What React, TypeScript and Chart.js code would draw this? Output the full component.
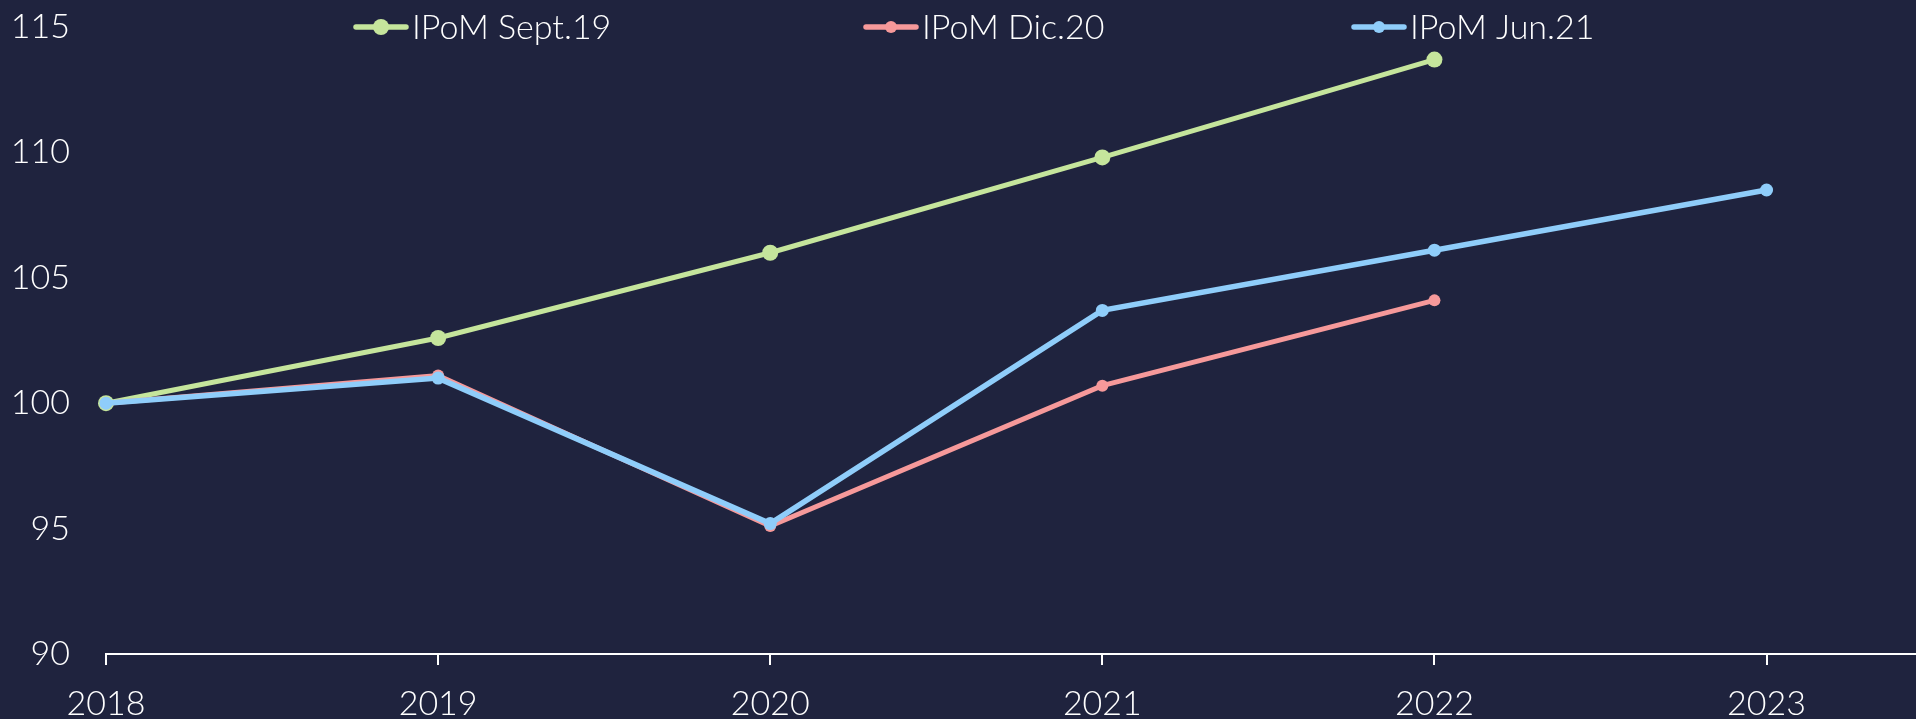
import React, { useEffect, useRef } from "react";
import { Chart, registerables } from "chart.js";

Chart.register(...registerables);

const years = [2018, 2019, 2020, 2021, 2022, 2023];
const sept19 = [100.0, 102.6, 106.0, 109.8, 113.7, null];
const dic20 = [100.0, 101.1, 95.1, 100.7, 104.1, null];
const jun21 = [100.0, 101.0, 95.2, 103.7, 106.1, 108.5];
const yTicks = [90, 95, 100, 105, 110, 115];
const seriesNames = ["IPoM Sept.19", "IPoM Dic.20", "IPoM Jun.21"];
const seriesColors = ["#c5e59c", "#f6999a", "#8fcdfa"];

const BG = "#1f233e";
const FONT_FAMILY = "Lato, 'Open Sans', sans-serif";
const FONT_SIZE = 34;

const toPoints = (vals: (number | null)[]) =>
  years.map((x, i) => ({ x, y: vals[i] }));

const legendPlugin = {
  id: "customLegend",
  afterDraw(chart: any) {
    const ctx = chart.ctx;
    const starts = [353, 863, 1351];
    const radii = [8, 6, 6];
    const y = 27;
    ctx.save();
    seriesNames.forEach((name, i) => {
      const x0 = starts[i];
      ctx.strokeStyle = seriesColors[i];
      ctx.lineWidth = 5.5;
      ctx.lineCap = "round";
      ctx.beginPath();
      ctx.moveTo(x0 + 3, y);
      ctx.lineTo(x0 + 53, y);
      ctx.stroke();
      ctx.fillStyle = seriesColors[i];
      ctx.beginPath();
      ctx.arc(x0 + 28, y, radii[i], 0, Math.PI * 2);
      ctx.fill();
      ctx.fillStyle = "#ffffff";
      ctx.font = `300 ${FONT_SIZE}px ${FONT_FAMILY}`;
      ctx.textBaseline = "middle";
      ctx.textAlign = "left";
      ctx.fillText(name, x0 + 59, y + 1);
    });
    ctx.restore();
  },
};

export default function App() {
  const ref = useRef<HTMLCanvasElement | null>(null);

  useEffect(() => {
    if (!ref.current) return;
    const chart = new Chart(ref.current, {
      type: "line",
      data: {
        datasets: [
          {
            label: seriesNames[0],
            data: toPoints(sept19),
            borderColor: seriesColors[0],
            backgroundColor: seriesColors[0],
            borderWidth: 5,
            pointRadius: 8,
            pointBorderWidth: 0,
            order: 3,
          },
          {
            label: seriesNames[1],
            data: toPoints(dic20),
            borderColor: seriesColors[1],
            backgroundColor: seriesColors[1],
            borderWidth: 5,
            pointRadius: 6,
            pointBorderWidth: 0,
            order: 2,
          },
          {
            label: seriesNames[2],
            data: toPoints(jun21),
            borderColor: seriesColors[2],
            backgroundColor: seriesColors[2],
            borderWidth: 5.5,
            pointRadius: 6.5,
            pointBorderWidth: 0,
            order: 1,
          },
        ],
      },
      options: {
        responsive: false,
        animation: false,
        clip: false as any,
        layout: {
          autoPadding: false,
          padding: { top: 27, left: 0, right: 0, bottom: 0 },
        },
        plugins: {
          legend: { display: false },
          tooltip: { enabled: false },
        },
        scales: {
          x: {
            type: "linear",
            min: years[0],
            max: 2023.45,
            afterBuildTicks: (scale: any) => {
              scale.ticks = years.map((v) => ({ value: v }));
            },
            afterFit: (scale: any) => {
              scale.height = 65;
              scale.paddingLeft = 0;
              scale.paddingRight = 0;
            },
            grid: {
              display: true,
              drawOnChartArea: false,
              drawTicks: true,
              tickLength: 11,
              color: "#ffffff",
              lineWidth: 2,
            },
            border: { display: true, color: "#ffffff", width: 2 },
            ticks: {
              color: "#ffffff",
              font: { family: FONT_FAMILY, size: FONT_SIZE, weight: "300" as any },
              padding: 19,
              maxRotation: 0,
              autoSkip: false,
              callback: (v: any) => String(v),
            },
          },
          y: {
            type: "linear",
            min: yTicks[0],
            max: yTicks[yTicks.length - 1],
            afterBuildTicks: (scale: any) => {
              scale.ticks = yTicks.map((v) => ({ value: v }));
            },
            afterFit: (scale: any) => {
              scale.width = 106;
              scale.paddingTop = 0;
              scale.paddingBottom = 0;
            },
            grid: { display: false, drawTicks: false },
            border: { display: false },
            ticks: {
              color: "#ffffff",
              font: { family: FONT_FAMILY, size: FONT_SIZE, weight: "300" as any },
              padding: 36,
              callback: (v: any) => String(v),
            },
          },
        },
      },
      plugins: [legendPlugin],
    });
    return () => chart.destroy();
  }, []);

  return (
    <div
      style={{
        position: "fixed",
        left: 0,
        top: 0,
        width: 1916,
        height: 719,
        background: BG,
      }}
    >
      <canvas ref={ref} width={1916} height={719} style={{ display: "block" }} />
    </div>
  );
}
